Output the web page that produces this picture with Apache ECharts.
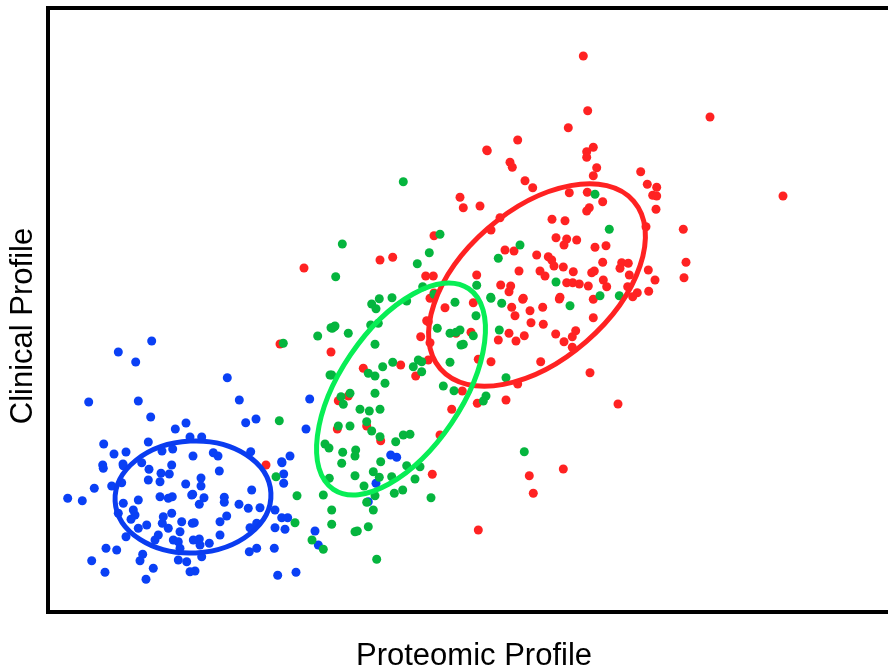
<!DOCTYPE html>
<html>
<head>
<meta charset="utf-8">
<script src="https://cdn.jsdelivr.net/npm/echarts@6/dist/echarts.min.js"></script>
<style>html,body{margin:0;padding:0;background:#fff;}#c{width:888px;height:672px;}</style>
</head>
<body>
<div id="c"></div>
<script>
// Axis titles
const xTitle = 'Proteomic Profile';
const yTitle = 'Clinical Profile';

// Cluster points [proteomic, clinical] (axis units; clinical axis runs top-down)
const bluePoints = [[151.7,341],[118.3,352],[135.7,362],[88.7,402],[138.3,401],[150.7,417],[186,423],[175.3,429],[103.7,444],[148.3,442],[114,454],[126,452],[190,437],[172.7,449],[162,451],[193,456],[171.7,465],[123,464],[102.7,465],
[227.3,377.7],[239.3,400],[245.7,422.7],[256,419],[309.7,399],[306,429],[201.7,437],[213.3,452.7],[218,456],[250.7,451.7],[290,456],[281.7,461.7],
[282,462.7],[283.7,474],[283.7,483.3],[219.3,471],[201,478],[201,486],[192.7,494.3],[251.7,490],[224.3,497.3],[224.3,502.3],[204,497.7],[199.3,504.3],[239,504.3],[248.3,508.3],[260,507.7],[275,510],[226.7,516],[220,521.7],[194.3,522.7],[281.7,517.7],[287.7,517.7],[275,527.7],[285,529.3],[250,527.7],[256.7,523.3],[220,535],[199.3,539],[200,545],[209.3,543.3],[315,531],[318.3,545],[256.7,548.3],[249.3,551.7],[274.3,548.3],[201.7,556.7],[195,571],[277.7,575.3],[296,572.3],
[103.3,468.3],[123.3,465.7],[141.7,462.7],[149,469.3],[169.3,474],[161,473.3],[160,481.7],[148.3,480],[185.7,484],[111.7,486],[121.7,482.7],[94.3,488.3],[67.7,498.3],[82.3,500.7],[160,496.7],[168.3,498.3],[172.3,496.7],[191.7,495],[138.3,500],[123.3,503.3],[133.3,510],[135,515],[118.3,513.3],[171.7,513.3],[163.3,516.7],[162.3,523.3],[181.7,521.7],[131,519.3],[146.7,525],[168.3,528.3],[138.3,528.3],[180,531.7],[192.3,523.3],[158.3,535],[155,540],[126,536.7],[173.3,540],[178.3,541.7],[180,548.3],[193.3,540],[106,548.3],[116.7,550],[91.7,560.7],[142.7,554.3],[140,560.7],[153.3,568.3],[105,572.3],[146,579.3],[178.3,560],[186.7,561.7],[190,571.7],
[390.7,455],[396.7,457.3],[376,483.3],[368.3,501.7]];

const greenPoints = [[279.3,420.7],[283.3,343.3],[317.7,336],[325,444],[329,448],[330,375],
[276,476.7],[297,495.7],[323.3,495],[295,522.7],[312,540],[323.3,549.3],
[355,475.7],[373.3,471.7],[379.3,477.3],[391.7,476.7],[415,479],[364,486],[394.3,493.3],[402.7,490],[375,495.7],[366.7,502.3],[373.3,510],[331.7,510],[431,497.7],[331.7,524.3],[368.3,526.7],[355,531.7],[357.3,531],[376.7,559.3],[329.3,478.3],
[332.3,328.3],[334.3,326.7],[348.3,333.3],[375,344.3],[370.7,325],[437.3,328.3],[450,333.3],[456,332.3],[460,330],[461,345],[392.7,362.3],[382.7,366.7],[368.3,373.3],[375,376],[418.3,360],[413.3,366.7],[421.7,371.7],[450,362.3],[331.7,375],[385,383.3],[443.3,386],[454,390.7],[375,393.3],[341,396.7],[350,393.3],[343.3,404.3],[360,409.3],[369.3,411],[380,409.3],[366.7,421.7],[371.7,431],[338.3,426],[350,426],[380,436.7],[395.7,441.7],[403.3,435],[410,434.3],[342.7,452.3],[355.7,450],[355,456],[341.7,463.3],[380.7,461.7],[406.7,465.7],[420,466.7],
[403.3,181.7],[342.3,244],[417.3,263.7],[429.3,252.7],[335.7,276.7],[422.7,286.7],[371.7,304],[376,308.7],[379.3,298.7],[392,297.7],[406.7,301],[331,327.7],[335,326],[378.3,323.3],
[440,234.3],[520,245],[498.3,258.3],[476.7,285.3],[556,282],[490.7,297.3],
[595,194.3],[609.3,229.3],[600,295.7],[619.3,295.7],
[434,294.3],[491,298.3],[501.7,303.3],[570,305.7],[455,302.3],[476,315.7],[473.3,335.7],[463.3,344.3],[499.3,330],[421.7,361.7],[506,377.7],[486,396],[483.3,401],
[524.3,451.7]];

const redPoints = [[280,344],[331,352],[266,465],
[428.3,321.7],[420.7,336.7],[430,342.7],[400.7,365],[363.3,368.3],[428.3,360],[415.7,376],[348.3,396],[338.3,400.7],[451.7,409.3],[366.7,426],[337.3,429],[380.7,440.7],[440,435],[432.3,474.3],
[304,268],[380,260],[392.7,257.3],[425.7,276],[430,298.3],[426.7,320.7],
[517.7,140],[487.3,150.7],[510,162.3],[512.3,167.3],[525,180.7],[532.7,187.7],[460,197.3],[463.3,207.7],[480,206],[500,217.7],[491,230],[552,219.3],[565,220.7],[556,237.7],[566.7,239],[564,245],[434,235.7],[505,250],[514,251],[536.7,255],[548.3,256.7],[551.7,260],[554,266],[563.3,267],[519,271],[540,271],[545,276],[433.3,276],[476.7,275],[500.7,285],[510.7,286],[509,291.7],[566.7,282.7],[523.3,298.3],[560,297.3],[434,293],
[593.3,147.3],[586.7,151.7],[586.7,157.3],[596.7,167.7],[593.3,175.7],[640.7,171.7],[647.3,184.3],[656.7,187.3],[652.7,195.3],[656.7,196],[656,209.3],[569.3,192.7],[587.3,192.3],[602.7,201.7],[589.3,207.7],[586.7,211],[646,226.7],[683.3,229.3],[576.7,240],[595,247.3],[606,245.7],[602.7,262.3],[621.7,262.7],[628.3,263.3],[620,268.3],[686,262.3],[573.3,271.7],[591.7,272.7],[594.3,271],[648.3,270],[629.3,275],[684,277.7],[655,280],[572.7,282.7],[579.3,284],[603.3,280],[606.7,286.7],[588.3,286],[627.7,286.7],[648.7,291.3],[637.3,292.7],[593.3,299.3],[632.7,296.7],
[522.7,299.3],[511.7,307.3],[515,315.7],[530,310.7],[531,322.7],[542.7,307.3],[543.3,324.3],[559.3,299],[593.3,317.7],[445,307.7],[473.3,302.7],[456,333.3],[471,332.3],[509,333.3],[498.3,340],[516,341],[524.3,335.7],[555.7,334],[564,341.7],[572.3,336.7],[575.7,330.7],[572.3,347.3],[478.3,359.3],[491,361.7],[540.7,361.7],[590,372.7],[517.7,384],[462.3,391],[477.3,403.3],[506,400],
[583.3,56],[587.7,110.7],[710,117],[568.3,127.7],[486.7,150],
[529.3,475.7],[563.3,469],[533.3,493.3],[478.3,530],
[783,196],[618,404]];

// Cluster ellipses: [centerX, centerY, semiAxisX, semiAxisY, rotationDeg]
const blueEllipse = [[193, 497, 78, 56, 3]];
const greenEllipse = [[401, 389, 121, 61, 56]];
const redEllipse = [[537, 285, 128, 75, 41]];

const BLUE = '#0a40f5', GREEN = '#05b53e', RED = '#ff2222';
const BLUE_E = '#0a3cf0', GREEN_E = '#08ee55', RED_E = '#ff2222';

function ellipseSeries(data, color) {
  return {
    type: 'custom', data: data, silent: true, z: 5,
    encode: {x: 0, y: 1},
    renderItem: function (params, api) {
      const c = api.coord([api.value(0), api.value(1)]);
      const s = api.size([api.value(2), api.value(3)]);
      return {
        type: 'ellipse', x: c[0], y: c[1],
        rotation: api.value(4) * Math.PI / 180,
        shape: {cx: 0, cy: 0, rx: Math.abs(s[0]), ry: Math.abs(s[1])},
        style: {fill: null, stroke: color, lineWidth: 5}
      };
    }
  };
}
function scatterSeries(data, color) {
  return {type: 'scatter', data: data, symbolSize: 9, z: 2,
    itemStyle: {color: color, opacity: 1}, silent: true};
}
const frameLine = {show: true, lineStyle: {color: '#000', width: 4, cap: 'square'}};
const hidden = {axisTick: {show: false}, axisLabel: {show: false}, splitLine: {show: false}};

const chart = echarts.init(document.getElementById('c'), null, {renderer: 'canvas'});
chart.setOption({
  animation: false,
  backgroundColor: '#fff',
  grid: {left: 48, top: 8, right: 0, bottom: 60},
  xAxis: [
    Object.assign({type: 'value', min: 48, max: 888, position: 'bottom', axisLine: frameLine}, hidden),
    Object.assign({type: 'value', min: 48, max: 888, position: 'top', axisLine: frameLine}, hidden)
  ],
  yAxis: Object.assign({type: 'value', min: 8, max: 612, inverse: true, position: 'left', axisLine: frameLine}, hidden),
  graphic: [
    {type: 'text', x: 474, y: 656, style: {text: xTitle, font: '31px "Liberation Sans", Arial, sans-serif', fill: '#000', align: 'center', verticalAlign: 'middle'}},
    {type: 'text', x: 23, y: 326, rotation: Math.PI / 2, style: {text: yTitle, font: '31px "Liberation Sans", Arial, sans-serif', fill: '#000', align: 'center', verticalAlign: 'middle'}}
  ],
  series: [
    scatterSeries(redPoints, RED),
    scatterSeries(bluePoints, BLUE),
    scatterSeries(greenPoints, GREEN),
    ellipseSeries(redEllipse, RED_E),
    ellipseSeries(blueEllipse, BLUE_E),
    ellipseSeries(greenEllipse, GREEN_E)
  ]
});
</script>
</body>
</html>
